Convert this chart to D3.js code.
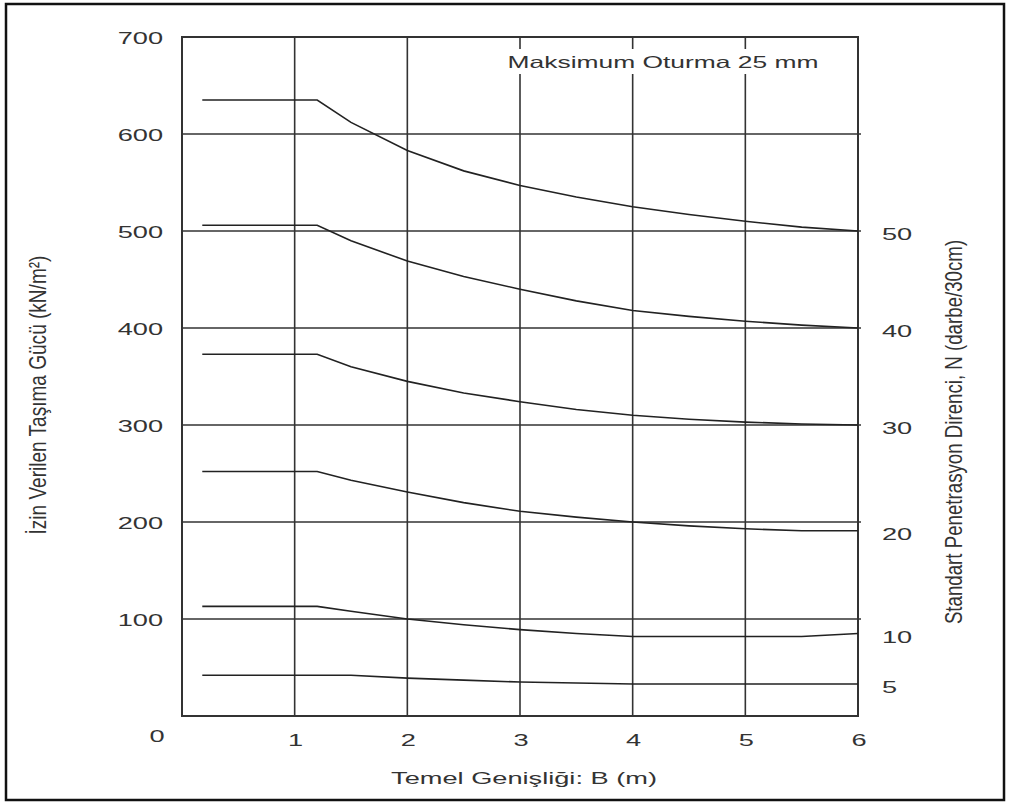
<!DOCTYPE html>
<html>
  <head>
    <meta charset="utf-8" />
    <script src="https://d3js.org/d3.v7.min.js"></script>
    <style>
      body { margin: 0; background: #fff; }
      text { font-family: "Liberation Sans", Arial, sans-serif; fill: #333; }
      .grid { stroke: #333; stroke-width: 1.6px; }
      .curve { fill: none; stroke: #222; stroke-width: 1.6px; }
    </style>
  </head>
  <body>

    <svg id="chart" width="1011" height="803"></svg>

    <script>

      // foundation width B (m) sample points
      var widths = [0.18, 1.2, 1.5, 2, 2.5, 3, 3.5, 4, 4.5, 5, 5.5, 6];

      // allowable bearing pressure (kN/m2) for each SPT N
      var qN50 = [635, 635, 612, 583, 562, 547, 535, 525, 517, 510, 504, 500];
      var qN40 = [506, 506, 490, 469, 453, 440, 428, 418, 412, 407, 403, 400];
      var qN30 = [373, 373, 360, 345, 333, 324, 316, 310, 306, 303, 301, 300];
      var qN20 = [252, 252, 243, 231, 220, 211, 205, 200, 196, 193, 191, 191];
      var qN10 = [113, 113, 108, 100, 94, 89, 85, 82, 82, 82, 82, 85];
      var qN5  = [42, 42, 42, 39, 37, 35, 34, 33, 33, 33, 33, 33];

      var nLabels = ["50", "40", "30", "20", "10", "5"];
      var seriesValues = [qN50, qN40, qN30, qN20, qN10, qN5];

      var xTicks = [1, 2, 3, 4, 5, 6];
      var yTicks = [100, 200, 300, 400, 500, 600, 700];

      var svg = d3.select("#chart");

      var x = d3.scaleLinear().domain([0, 6]).range([182, 858]);
      var y = d3.scaleLinear().domain([0, 700]).range([716, 37]);

      // the scanned figure is stretched sideways, so text is widened too
      var SX = 1.6;

      function label(px, py, str, anchor, size) {
        return svg.append("text")
          .attr("transform", "translate(" + px + "," + py + ") scale(" + SX + ",1)")
          .attr("dy", "0.35em")
          .attr("text-anchor", anchor)
          .attr("font-size", size || 17)
          .text(str);
      }

      function vlabel(px, py, str, along, size) {
        return svg.append("text")
          .attr("transform", "translate(" + px + "," + py + ") rotate(-90) scale(" + along + "," + 1.45 + ")")
          .attr("dy", "0.35em")
          .attr("text-anchor", "middle")
          .attr("font-size", size || 17)
          .text(str);
      }

      // page border from the scanned figure
      svg.append("rect")
        .attr("x", 6).attr("y", 4)
        .attr("width", 998).attr("height", 796)
        .attr("fill", "none")
        .attr("stroke", "#111")
        .attr("stroke-width", 2.5);

      // vertical grid lines
      svg.selectAll(".vgrid")
        .data(xTicks.slice(0, 5))
        .enter().append("line")
        .attr("class", "grid")
        .attr("x1", function(d) { return x(d); })
        .attr("x2", function(d) { return x(d); })
        .attr("y1", y(700))
        .attr("y2", y(0));

      // horizontal grid lines
      svg.selectAll(".hgrid")
        .data(yTicks.slice(0, 6))
        .enter().append("line")
        .attr("class", "grid")
        .attr("x1", x(0))
        .attr("x2", x(6) + 3)
        .attr("y1", function(d) { return y(d); })
        .attr("y2", function(d) { return y(d); });

      // plot frame
      svg.append("rect")
        .attr("x", x(0)).attr("y", y(700))
        .attr("width", x(6) - x(0))
        .attr("height", y(0) - y(700))
        .attr("fill", "none")
        .attr("stroke", "#333")
        .attr("stroke-width", 2);

      // box note
      svg.append("rect")
        .attr("x", 498).attr("y", 49)
        .attr("width", 330).attr("height", 25)
        .attr("fill", "#fff");
      label(663, 62, "Maksimum Oturma 25 mm", "middle", 16.5);

      // curves
      var line = d3.line()
        .x(function(d, i) { return x(widths[i]); })
        .y(function(d) { return y(d); })
        .curve(d3.curveLinear);

      svg.selectAll(".curve")
        .data(seriesValues)
        .enter().append("path")
        .attr("class", "curve")
        .attr("d", line);

      // left axis labels
      yTicks.forEach(function(d) {
        label(163, y(d) + 1, d, "end");
      });

      // bottom axis labels
      xTicks.forEach(function(d) {
        label(x(d) + 1, 740, d, "middle");
      });
      label(x(0) - 25, 736, "0", "middle");

      // right N labels at the curve ends
      nLabels.forEach(function(d, i) {
        var v = seriesValues[i];
        label(882, y(v[v.length - 1]) + 3, d, "start");
      });

      // axis titles
      vlabel(37, 395, "İzin Verilen Taşıma Gücü (kN/m²)", 1.12);
      vlabel(953, 432, "Standart Penetrasyon Direnci, N (darbe/30cm)", 1.1);
      label(524, 778, "Temel Genişliği: B (m)", "middle");

    </script>

  </body>
</html>
